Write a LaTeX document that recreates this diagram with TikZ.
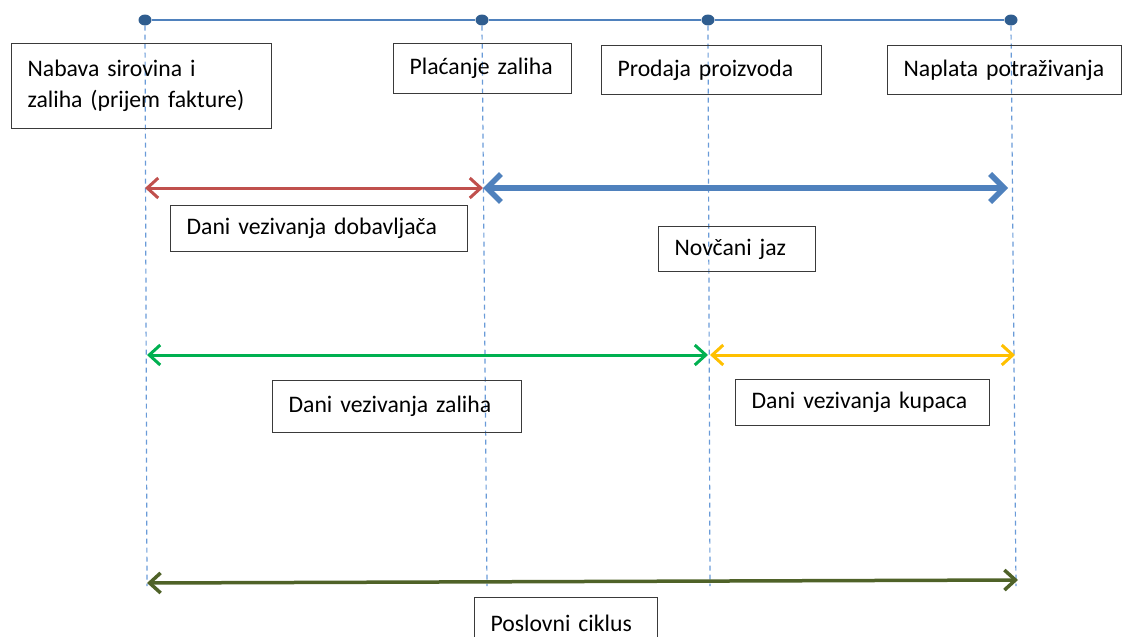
\documentclass[tikz,border=0pt]{standalone}
\usepackage{fontspec}
\setmainfont{Carlito}
\usetikzlibrary{arrows.meta,shapes.geometric}
\definecolor{topblue}{HTML}{4F81BD}
\definecolor{dotblue}{HTML}{2F5D8F}
\definecolor{dashblue}{HTML}{6A9BD8}
\definecolor{redc}{HTML}{C0504D}
\definecolor{bluec}{HTML}{4F81BD}
\definecolor{greenc}{HTML}{00B050}
\definecolor{yellowc}{HTML}{FFC000}
\definecolor{olivec}{HTML}{4F6228}
\definecolor{boxc}{HTML}{3A3A3A}
\begin{document}
\begin{tikzpicture}[x=1pt,y=-1pt,
  lbl/.style={draw=boxc, line width=1.2pt, inner xsep=16pt, inner ysep=0pt, align=left,
    anchor=north west, font=\fontsize{23.7}{31}\selectfont},
  dotn/.style={ellipse, fill=dotblue, draw=none, minimum width=13pt, minimum height=11pt, inner sep=0pt},
  topline/.style={draw=topblue, line width=1.5pt},
  vdash/.style={draw=dashblue, line width=1.2pt, dash pattern=on 5pt off 4pt},
  thinarr/.style={line width=3pt, {Straight Barb[length=11pt,width=20pt]}-{Straight Barb[length=11pt,width=20pt]}},
  thickarr/.style={line width=5.5pt, {Straight Barb[length=14pt,width=28pt]}-{Straight Barb[length=14pt,width=28pt]}}
]
\useasboundingbox (0,0) rectangle (1122,637);

% top timeline dots
\node[dotn] (d1) at (145,20) {};
\node[dotn] (d2) at (482,20) {};
\node[dotn] (d3) at (708,20) {};
\node[dotn] (d4) at (1011,20) {};

% bottom ends of guide lines
\coordinate (v1) at (147,586);
\coordinate (v2) at (487,586);
\coordinate (v3) at (710,586);
\coordinate (v4) at (1016,586);

\draw[vdash] (d1.south) -- (v1);
\draw[vdash] (d2.south) -- (v2);
\draw[vdash] (d3.south) -- (v3);
\draw[vdash] (d4.south) -- (v4);

\draw[topline] (d1) -- (d2) -- (d3) -- (d4);

% event boxes
\node[lbl, text width=228pt, minimum height=85pt] (b1) at (11,43) {Nabava sirovina i\\zaliha (prijem fakture)};
\node[lbl, text width=146pt, minimum height=50pt] (b2) at (393,43) {Plaćanje zaliha};
\node[lbl, text width=188pt, minimum height=49pt] (b3) at (601,45) {Prodaja proizvoda};
\node[lbl, text width=202pt, minimum height=49pt] (b4) at (887,45) {Naplata potraživanja};

% arrow endpoints
\coordinate (r1) at (145,188);
\coordinate (r2) at (483,188);
\coordinate (u2) at (1008,188);
\coordinate (g1) at (147,355);
\coordinate (g2) at (708,355);
\coordinate (y1) at (710,355);
\coordinate (y2) at (1015,355);
\coordinate (o1) at (147,583);
\coordinate (o2) at (1018,580);

\draw[thickarr, draw=bluec] (r2) -- (u2);
\draw[thinarr, draw=redc] (r1) -- (r2);
\draw[thinarr, draw=greenc] (g1) -- (g2);
\draw[thinarr, draw=yellowc] (y1) -- (y2);
\draw[thinarr, line width=3.5pt, draw=olivec] (o1) -- (o2);

% period boxes
\node[lbl, text width=265pt, minimum height=46pt] (p1) at (170,205) {Dani vezivanja dobavljača};
\node[lbl, text width=125pt, minimum height=45pt] (p2) at (658,226) {Novčani jaz};
\node[lbl, text width=217pt, minimum height=52pt] (p3) at (272,380) {Dani vezivanja zaliha};
\node[lbl, text width=222pt, minimum height=46pt] (p4) at (735,379) {Dani vezivanja kupaca};
\node[lbl, text width=151pt, minimum height=52pt] (p5) at (474,597) {Poslovni ciklus};
\end{tikzpicture}
\end{document}
